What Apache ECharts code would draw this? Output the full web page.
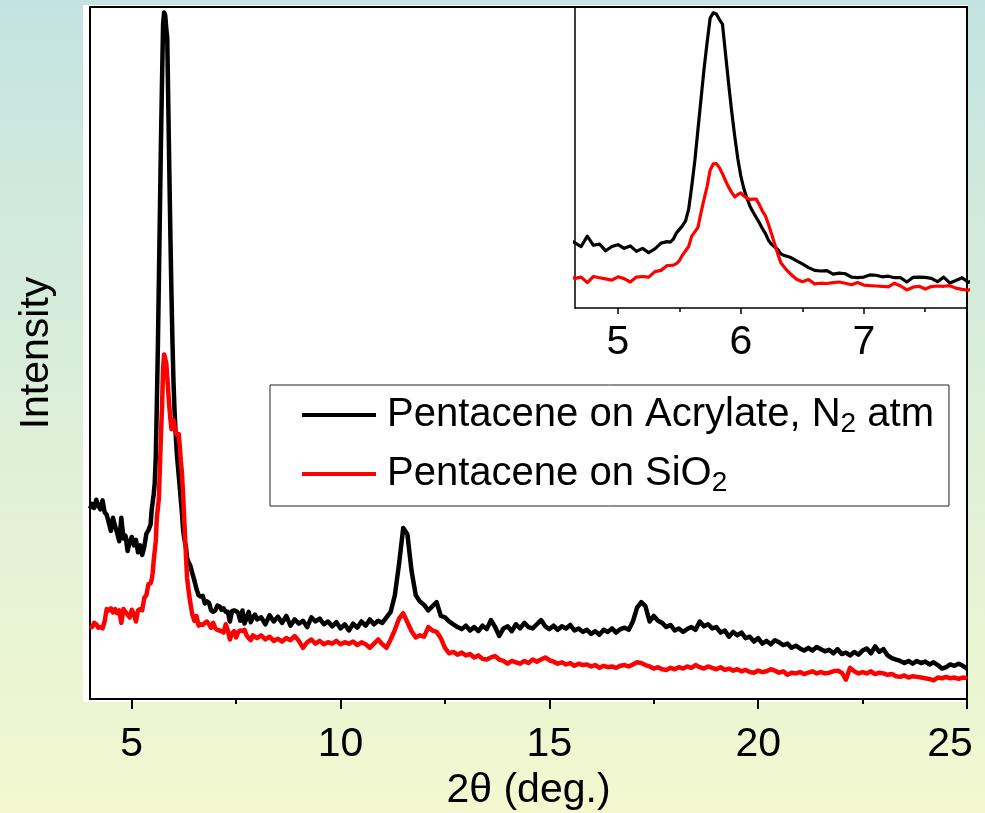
<!DOCTYPE html>
<html>
<head>
<meta charset="utf-8">
<title>XRD of pentacene films</title>
<script src="https://cdn.jsdelivr.net/npm/echarts@6/dist/echarts.min.js"></script>
<style>
  html, body { margin: 0; padding: 0; }
  #chart { width: 985px; height: 813px; }
</style>
</head>
<body>
<div id="chart"></div>
<script>
// 2θ scan positions (deg.)
const angle = [
  4.00,4.05,4.10,4.15,4.20,4.25,4.30,4.35,4.40,4.45,4.50,4.55,4.60,4.65,4.70,4.75,4.80,4.85,4.90,4.95,5.00,5.05,5.10,5.15,5.20,5.25,5.30,5.35,5.40,
  5.425,5.45,5.475,5.50,5.525,5.55,5.575,5.60,5.625,5.65,5.675,5.70,5.725,5.75,5.775,5.80,5.825,5.85,5.875,5.90,
  5.925,5.95,5.975,6.00,6.025,6.05,6.075,6.10,6.125,6.15,6.175,6.20,6.225,6.25,6.275,6.30,6.325,6.35,6.375,6.40,
  6.45,6.50,6.55,6.60,6.65,6.70,6.75,6.80,6.85,6.90,6.95,7.00,7.05,7.10,7.15,7.20,7.25,7.30,7.35,7.40,7.45,7.50,7.55,7.60,7.65,7.70,7.75,7.80,7.85,7.90,7.95,8.00,
  8.1,8.2,8.3,8.4,8.5,8.6,8.7,8.8,8.9,9.0,
  9.1,9.2,9.3,9.4,9.5,9.6,9.7,9.8,9.9,10.0,
  10.1,10.2,10.3,10.4,10.5,10.6,10.7,10.8,10.9,11.0,
  11.1,11.2,11.3,11.4,11.5,11.6,11.7,11.8,11.9,12.0,
  12.1,12.2,12.3,12.4,12.5,12.6,12.7,12.8,12.9,13.0,
  13.1,13.2,13.3,13.4,13.5,13.6,13.7,13.8,13.9,14.0,
  14.1,14.2,14.3,14.4,14.5,14.6,14.7,14.8,14.9,15.0,
  15.1,15.2,15.3,15.4,15.5,15.6,15.7,15.8,15.9,16.0,
  16.1,16.2,16.3,16.4,16.5,16.6,16.7,16.8,16.9,17.0,
  17.1,17.2,17.3,17.4,17.5,17.6,17.7,17.8,17.9,18.0,
  18.1,18.2,18.3,18.4,18.5,18.6,18.7,18.8,18.9,19.0,
  19.1,19.2,19.3,19.4,19.5,19.6,19.7,19.8,19.9,20.0,
  20.1,20.2,20.3,20.4,20.5,20.6,20.7,20.8,20.9,21.0,
  21.1,21.2,21.3,21.4,21.5,21.6,21.7,21.8,21.9,22.0,
  22.1,22.2,22.3,22.4,22.5,22.6,22.7,22.8,22.9,23.0,
  23.1,23.2,23.3,23.4,23.5,23.6,23.7,23.8,23.9,24.0,
  24.1,24.2,24.3,24.4,24.5,24.6,24.7,24.8,24.9,25.0
];

// Intensity (a.u.), pentacene on acrylate under N2
const acrylateN2 = [
  275,282,276,288,279,274,287,270,266,255,243,262,250,240,228,262,232,236,214,228,234,222,230,212,222,208,220,239,244,
  242,252,272,284,296,312,350,425,508,608,708,808,895,975,992,988,970,955,858,761,
  670,588,515,457,416,385,359,340,323,306,287,270,248,235,226,219,204,199,196,193,
  182,171,159,150,148,149,138,141,139,128,126,128,135,134,129,131,126,126,112,127,128,127,124,113,128,109,117,126,111,118,122,115,
  118,108,121,112,119,110,120,106,115,109,
  113,104,118,112,116,108,112,105,111,102,
  108,99,109,103,112,106,115,108,113,110,
  118,126,150,195,247,238,185,150,141,136,
  128,134,140,120,118,112,108,104,101,106,
  99,104,98,106,101,114,104,91,102,105,
  98,108,102,110,104,102,108,114,105,101,
  106,100,105,102,107,99,102,97,100,94,
  98,93,100,97,102,96,101,103,100,112,
  132,140,134,112,120,113,110,104,107,99,
  102,97,101,104,100,112,105,108,102,104,
  96,99,90,97,92,96,88,90,83,88,
  80,84,79,85,82,78,80,74,77,73,
  70,74,70,75,72,69,71,66,72,65,
  67,63,68,64,70,73,66,76,68,72,
  63,59,57,55,52,55,51,55,52,54,
  50,53,49,44,46,50,48,51,48,44
];

// Intensity (a.u.), pentacene on SiO2
const sio2 = [
  106,104,110,108,103,104,102,112,130,128,131,125,130,124,128,110,130,126,122,118,129,123,112,128,130,128,146,150,166,
  166,167,172,182,200,214,228,262,276,290,338,382,424,478,498,499,486,466,443,422,
  405,390,398,403,393,386,382,383,383,365,344,328,300,268,236,204,175,162,150,140,
  122,113,120,106,108,107,110,112,108,103,110,102,100,99,98,96,108,99,86,95,98,89,97,99,98,100,92,88,85,92,90,88,
  92,86,90,84,87,83,88,85,91,84,
  74,82,86,80,84,79,82,80,84,79,
  82,80,83,78,82,79,74,80,86,79,
  74,86,100,116,124,111,98,89,92,90,
  104,99,97,88,74,66,68,64,67,63,
  65,60,63,58,57,60,62,57,55,51,
  55,53,51,55,52,57,54,57,60,56,
  54,51,53,50,52,48,51,49,50,47,
  49,45,48,46,47,45,48,49,47,50,
  53,52,49,47,44,46,43,42,45,43,
  46,44,47,45,49,46,44,47,45,43,
  46,42,44,41,43,40,42,39,38,41,
  39,40,43,41,38,40,35,38,37,39,
  36,38,40,37,39,37,38,40,41,38,
  28,45,40,37,39,37,40,36,38,37,
  35,36,33,32,34,31,33,32,31,30,
  29,27,31,30,32,30,31,29,31,30
];

const seriesNames = ['Pentacene on Acrylate, N2 atm', 'Pentacene on SiO2'];
const legendLabels = [
  '{h|Pentacene on Acrylate, N}{s|2}{t| atm}',
  '{h|Pentacene on SiO}{s|2}'
];

const mainMajorTicks = [5, 10, 15, 20, 25];
const mainMinorTicks = [7.5, 12.5, 17.5, 22.5];
const insetMajorTicks = [5, 6, 7];
const insetMinorTicks = [5.5, 6.5, 7.5];

const FONT = '"Liberation Sans", Arial, Helvetica, sans-serif';
const pairs = (ys) => angle.map((a, i) => [a, ys[i]]);

const chart = echarts.init(document.getElementById('chart'), null, { renderer: 'canvas' });

function xAxisPair(gridIndex, min, max, major, minor, lineWidth, majorLen, minorLen, labelMargin, extra) {
  return [
    Object.assign({
      type: 'value', gridIndex, min, max, position: 'bottom',
      axisLine: { show: true, onZero: false, lineStyle: { color: '#000', width: lineWidth } },
      axisTick: { show: true, inside: false, customValues: major, length: majorLen, lineStyle: { color: '#000', width: lineWidth } },
      axisLabel: { show: true, customValues: major, margin: labelMargin, color: '#000', fontSize: 41, fontFamily: FONT },
      splitLine: { show: false }
    }, extra || {}),
    {
      type: 'value', gridIndex, min, max, position: 'bottom', offset: 0,
      axisLine: { show: false },
      axisTick: { show: true, inside: false, customValues: minor, length: minorLen, lineStyle: { color: '#000', width: lineWidth } },
      axisLabel: { show: false },
      splitLine: { show: false }
    }
  ];
}

const option = {
  backgroundColor: {
    type: 'linear', x: 0, y: 0, x2: 0, y2: 1,
    colorStops: [
      { offset: 0, color: '#c3e3e1' },
      { offset: 0.5, color: '#dcefd9' },
      { offset: 1, color: '#f3f8cf' }
    ]
  },
  animation: false,
  graphic: [{
    type: 'rect', left: 83, top: 5, z: -10, silent: true,
    shape: { width: 885, height: 697 },
    style: { fill: '#ffffff' }
  }],
  textStyle: { fontFamily: FONT },
  grid: [
    { left: 90, top: 7, right: 18, bottom: 114, outerBoundsMode: 'none', containLabel: false,
      show: true, backgroundColor: '#ffffff', borderColor: '#000', borderWidth: 2 },
    { left: 575, top: 7, right: 18, bottom: 505, outerBoundsMode: 'none', containLabel: false, show: false }
  ],
  xAxis: [
    ...xAxisPair(0, 4, 25, mainMajorTicks, mainMinorTicks, 2, 10, 5, 25, {
      name: '2θ (deg.)', nameLocation: 'middle', nameGap: 71,
      nameTextStyle: { color: '#000', fontSize: 41, fontFamily: FONT }
    }),
    ...xAxisPair(1, 4.65, 7.84, insetMajorTicks, insetMinorTicks, 1.5, 6, 4, 14)
  ],
  yAxis: [
    {
      type: 'value', gridIndex: 0, min: 0, max: 1000,
      axisLine: { show: true, lineStyle: { color: '#000', width: 2 } },
      axisTick: { show: false }, axisLabel: { show: false }, splitLine: { show: false },
      name: 'Intensity', nameLocation: 'middle', nameGap: 33, nameRotate: 90,
      nameTextStyle: { color: '#000', fontSize: 41, fontFamily: FONT }
    },
    {
      type: 'value', gridIndex: 1, min: 27, max: 1011,
      axisLine: { show: true, lineStyle: { color: '#000', width: 1.5 } },
      axisTick: { show: false }, axisLabel: { show: false }, splitLine: { show: false }
    }
  ],
  legend: {
    data: seriesNames.map((n) => ({ name: n, icon: 'rect' })),
    orient: 'vertical',
    left: 270, top: 385,
    padding: [10, 15, 9, 32],
    itemGap: 16,
    itemWidth: 74, itemHeight: 4,
    backgroundColor: '#ffffff',
    borderColor: '#222', borderWidth: 1, borderRadius: 0,
    selectedMode: false,
    formatter: (name) => legendLabels[seriesNames.indexOf(name)],
    textStyle: {
      color: '#000', fontSize: 40, fontFamily: FONT,
      rich: {
        h: { fontSize: 40, fontFamily: FONT, color: '#000', padding: [0, 0, 0, 6] },
        t: { fontSize: 40, fontFamily: FONT, color: '#000' },
        s: { fontSize: 28, fontFamily: FONT, color: '#000', padding: [18, 0, 0, 0] }
      }
    }
  },
  series: [
    {
      name: seriesNames[0], type: 'line', xAxisIndex: 0, yAxisIndex: 0,
      data: pairs(acrylateN2), symbol: 'none', smooth: false,
      lineStyle: { color: '#000000', width: 4.5, join: 'round' }, itemStyle: { color: '#000000' }
    },
    {
      name: seriesNames[1], type: 'line', xAxisIndex: 0, yAxisIndex: 0,
      data: pairs(sio2), symbol: 'none', smooth: false,
      lineStyle: { color: '#ff0000', width: 4.5, join: 'round' }, itemStyle: { color: '#ff0000' }
    },
    {
      name: seriesNames[0], type: 'line', xAxisIndex: 2, yAxisIndex: 1,
      data: pairs(acrylateN2), symbol: 'none', smooth: false, clip: true,
      lineStyle: { color: '#000000', width: 3.2, join: 'round' }, itemStyle: { color: '#000000' }
    },
    {
      name: seriesNames[1], type: 'line', xAxisIndex: 2, yAxisIndex: 1,
      data: pairs(sio2), symbol: 'none', smooth: false, clip: true,
      lineStyle: { color: '#ff0000', width: 3.2, join: 'round' }, itemStyle: { color: '#ff0000' }
    }
  ]
};

// the last main-axis label sits against the right edge of the canvas
option.xAxis[0].axisLabel.formatter = (v) => (v === 25 ? '{edge|' + v + '}' : String(v));
option.xAxis[0].axisLabel.rich = {
  edge: { fontSize: 41, fontFamily: FONT, color: '#000', padding: [0, 34, 0, 0] }
};

chart.setOption(option);
</script>
</body>
</html>
